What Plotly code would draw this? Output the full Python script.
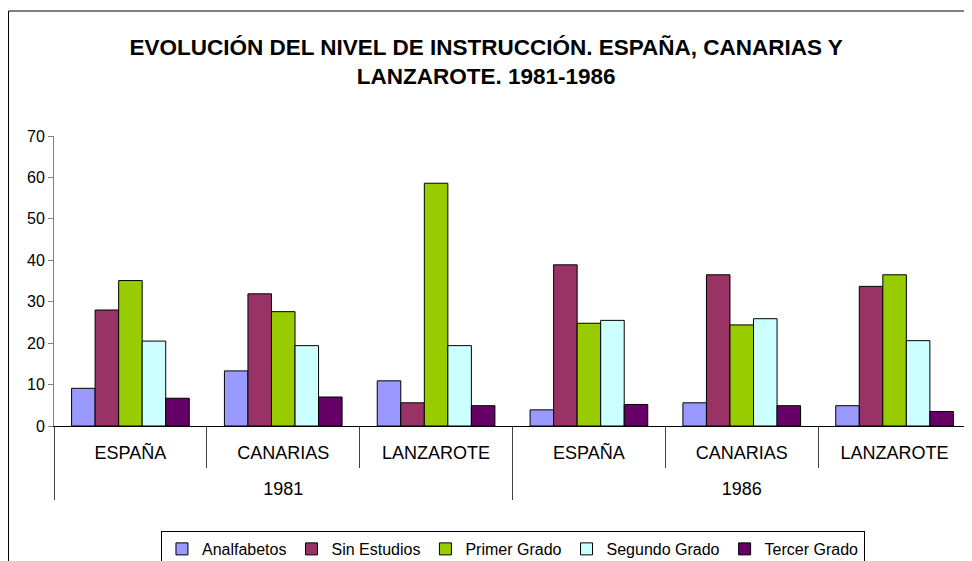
import plotly.graph_objects as go

years = ["1981", "1981", "1981", "1986", "1986", "1986"]
regions = ["ESPAÑA", "CANARIAS", "LANZAROTE", "ESPAÑA", "CANARIAS", "LANZAROTE"]

series_names = ["Analfabetos", "Sin Estudios", "Primer Grado", "Segundo Grado", "Tercer Grado"]
analfabetos = [9.1, 13.3, 10.9, 3.9, 5.6, 4.9]
sin_estudios = [28.0, 31.9, 5.6, 38.9, 36.5, 33.7]
primer_grado = [35.1, 27.6, 58.6, 24.8, 24.4, 36.5]
segundo_grado = [20.5, 19.4, 19.4, 25.5, 25.9, 20.6]
tercer_grado = [6.7, 7.0, 4.9, 5.2, 4.9, 3.5]
colors = ["#9999FF", "#993366", "#99CC00", "#CCFFFF", "#660066"]

values = [analfabetos, sin_estudios, primer_grado, segundo_grado, tercer_grado]

FONT = "Liberation Sans, Arial, sans-serif"

# region labels padded with an empty line so the year row sits lower
region_labels = [r + "<br> " for r in regions]

fig = go.Figure()
for name, vals, col in zip(series_names, values, colors):
    fig.add_trace(go.Bar(
        x=[years, region_labels], y=vals, name=name,
        marker=dict(color=col, line=dict(color="#000000", width=1)),
    ))

fig.update_layout(
    width=964, height=553,
    margin=dict(l=46, r=1, t=128, b=135, autoexpand=False),
    paper_bgcolor="white", plot_bgcolor="white",
    barmode="group", bargap=0.23, bargroupgap=0,
    font=dict(family=FONT, size=17, color="#000000"),
    title=dict(
        text="<b>EVOLUCIÓN DEL NIVEL DE INSTRUCCIÓN. ESPAÑA, CANARIAS Y<br>LANZAROTE. 1981-1986</b>",
        x=0.496, xanchor="center", y=0.9146, yanchor="middle",
        font=dict(family=FONT, size=22.5, color="#000000"),
    ),
    showlegend=True,
    legend=dict(
        orientation="h", x=0.5005, xanchor="center", y=-0.362, yanchor="top",
        bordercolor="#000000", borderwidth=1,
        font=dict(family=FONT, size=16), traceorder="normal",
    ),
    xaxis=dict(
        type="multicategory", showline=True, linecolor="#000000", linewidth=1,
        ticks="outside", ticklen=41, tickcolor="#444444",
        dividercolor="#444444", dividerwidth=1, ticklabelstandoff=10,
        showgrid=False, tickfont=dict(family=FONT, size=18), automargin=False,
    ),
    yaxis=dict(
        range=[0, 70], dtick=10, showgrid=False, showline=True,
        linecolor="#808080", linewidth=1, ticks="outside", ticklen=5,
        tickcolor="#808080", tickfont=dict(family=FONT, size=16), zeroline=False,
        automargin=False,
    ),
    shapes=[dict(
        type="rect", xref="paper", yref="paper",
        x0=-0.0496, x1=1.01, y0=-0.6, y1=1.431,
        line=dict(color="#000000", width=1), fillcolor="rgba(0,0,0,0)", layer="below",
    )],
)

fig.write_html("out.html")
